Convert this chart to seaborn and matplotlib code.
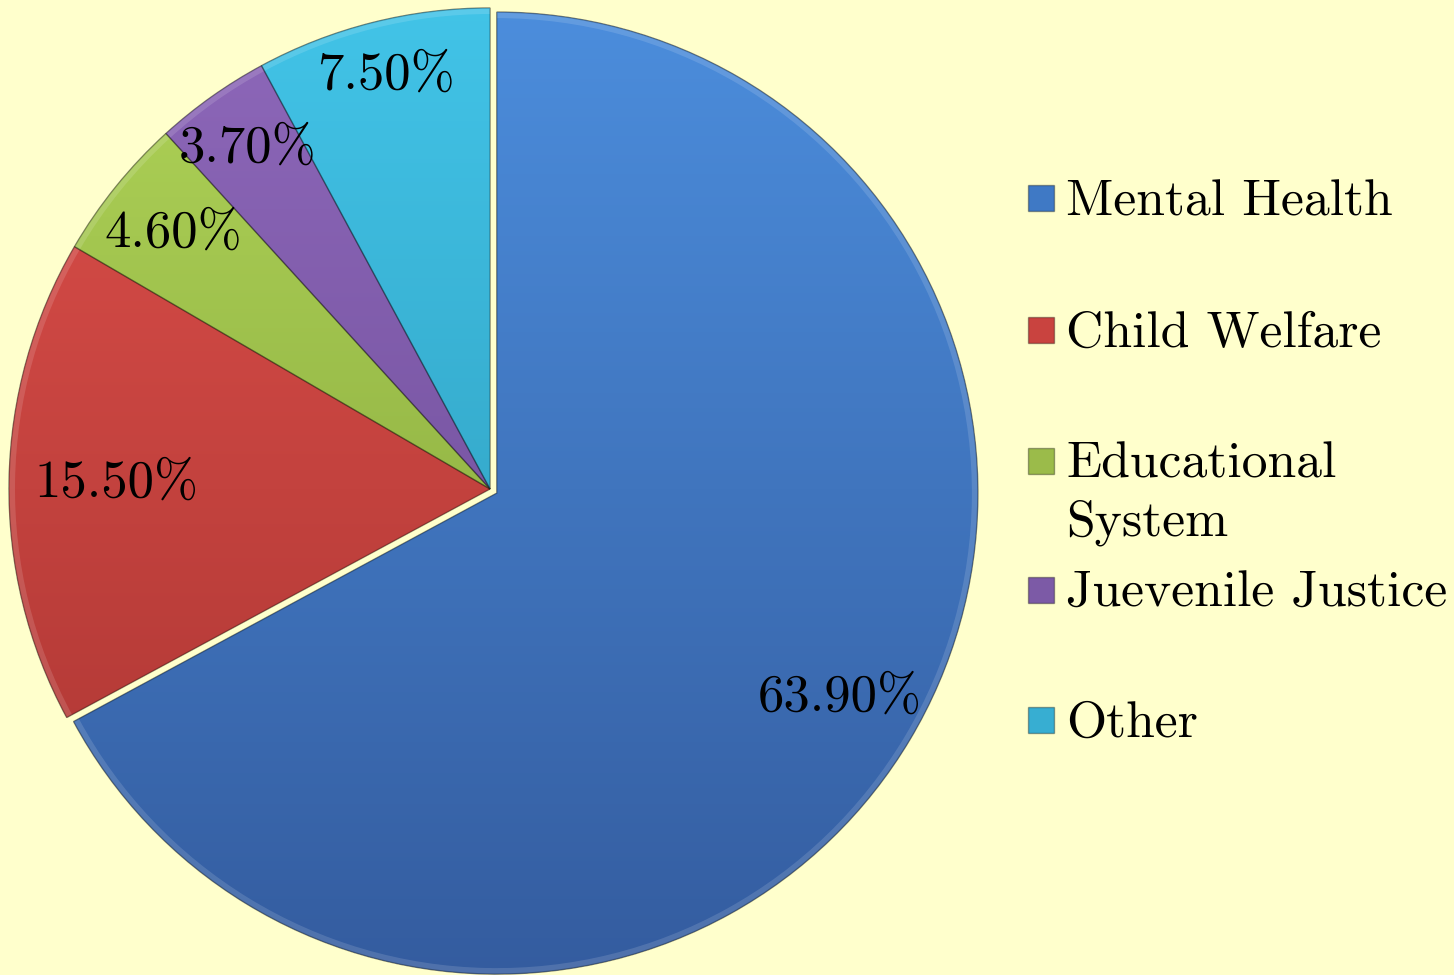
import numpy as np
import matplotlib
matplotlib.use("Agg")
import matplotlib.pyplot as plt
from matplotlib.colors import LinearSegmentedColormap
from matplotlib.patches import Rectangle, Wedge
import seaborn as sns

# Referral sources (percent of cases)
categories = ["Mental Health", "Child Welfare", "Educational System",
              "Juevenile Justice", "Other"]
shares = [63.9, 15.5, 4.6, 3.7, 7.5]
pct_labels = ["63.90%", "15.50%", "4.60%", "3.70%", "7.50%"]
legend_lines = [["Mental Health"], ["Child Welfare"], ["Educational", "System"],
                ["Juevenile Justice"], ["Other"]]

# Top / bottom shades of each slice's vertical gradient
top_colors = ["#4C8EDD", "#DE504B", "#B0D458", "#8E68BA", "#42C4E8"]
bottom_colors = ["#345C9F", "#A83431", "#7E9E37", "#664790", "#2A93B2"]
mid_colors = ["#3F79C5", "#C9433F", "#9BBB4A", "#7C5AA6", "#37AED2"]

sns.set_theme(style="white")
plt.rcParams["font.family"] = ["cmr10", "DejaVu Serif"]
plt.rcParams["axes.formatter.use_mathtext"] = True

W, H = 1454, 975
bg = "#FFFFCC"
fig = plt.figure(figsize=(W / 100, H / 100), dpi=100, facecolor=bg)
ax = fig.add_axes([0, 0, 1, 1])
ax.set_facecolor(bg)

cx, cy, R = 490, H - 489, 481
explode = [8, 0, 0, 0, 0]  # pixel offset of the pulled-out slice

wedges, _ = ax.pie(shares, colors=mid_colors, startangle=90, counterclock=False,
                   center=(cx, cy), radius=R, explode=explode,
                   wedgeprops=dict(linewidth=1.0, edgecolor="#00000045"))

# vertical shading inside each slice, with a soft bevelled rim
grad = np.linspace(0, 1, 256).reshape(-1, 1)
for w, c_top, c_bot in zip(wedges, top_colors, bottom_colors):
    cmap = LinearSegmentedColormap.from_list("shade", [c_bot, c_top])
    im = ax.imshow(grad, cmap=cmap, origin="lower", aspect="auto",
                   extent=(cx - R - 10, cx + R + 10, cy - R - 10, cy + R + 10),
                   zorder=w.get_zorder() + 0.1)
    im.set_clip_path(w)
    rim = Wedge(w.center, w.r, w.theta1, w.theta2, width=6,
                facecolor="#FFFFFF22", edgecolor="none",
                zorder=w.get_zorder() + 0.2)
    ax.add_patch(rim)
    ax.add_patch(Wedge(w.center, w.r, w.theta1, w.theta2, facecolor="none",
                       edgecolor="#00000045", linewidth=1.0,
                       zorder=w.get_zorder() + 0.3))

# percentage labels along each slice's mid-angle
label_radius = [0.83, 0.776, 0.846, 0.87, 0.887]
for w, txt, fr in zip(wedges, pct_labels, label_radius):
    mid = np.deg2rad((w.theta1 + w.theta2) / 2)
    x0, y0 = w.center
    ax.text(x0 + fr * R * np.cos(mid), y0 + fr * R * np.sin(mid), txt,
            ha="center", va="center", fontsize=38, color="black", zorder=5)

# legend: small square swatches with names
legend_y = [198, 330, 461, 590, 720]
for col, lines, yc in zip(mid_colors, legend_lines, legend_y):
    ax.add_patch(Rectangle((1028, H - yc - 13), 26, 26, facecolor=col,
                           edgecolor="#00000055", linewidth=1, zorder=5))
    for i, line in enumerate(lines):
        ax.text(1066, H - yc - 17 - i * 58, line, ha="left", va="baseline",
                fontsize=37.2, color="black", zorder=5)

ax.set_xlim(0, W)
ax.set_ylim(0, H)
ax.set_aspect("equal")
ax.axis("off")

fig.savefig("out.png", dpi=100, facecolor=bg)
